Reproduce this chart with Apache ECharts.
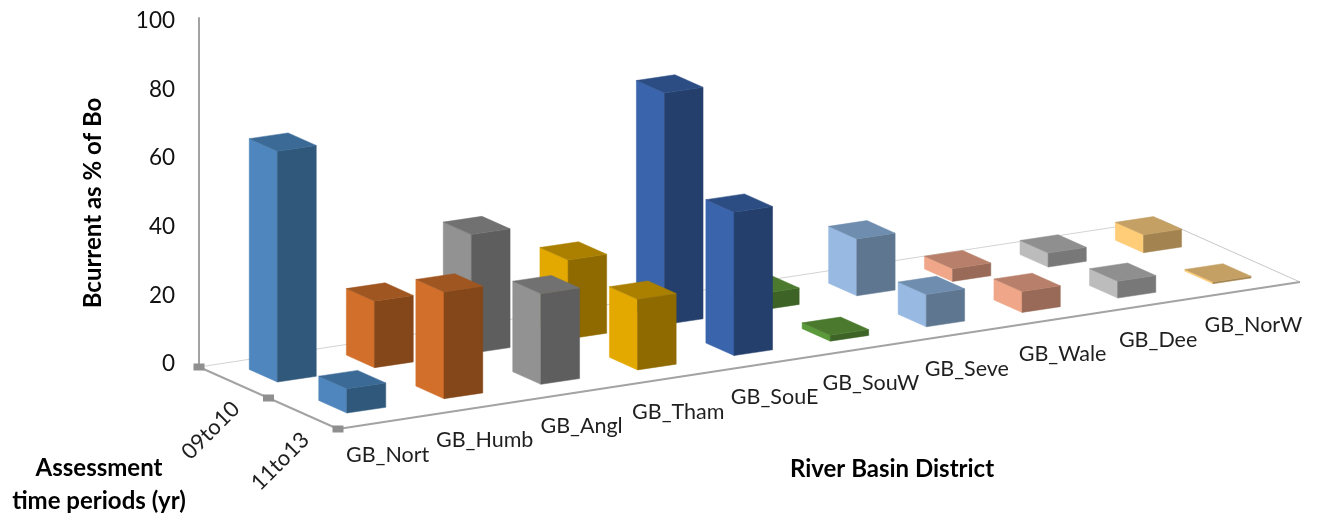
<!DOCTYPE html>
<html>
<head>
<meta charset="utf-8">
<style>
  html, body { margin: 0; padding: 0; background: #fff; }
  #chart { width: 1319px; height: 515px; }
</style>
<script src="https://cdn.jsdelivr.net/npm/echarts@6/dist/echarts.min.js"></script>
</head>
<body>
<div id="chart"></div>
<script>
// River basin districts along the floor, assessment periods going back to front.
const districts = ['GB_Nort', 'GB_Humb', 'GB_Angl', 'GB_Tham', 'GB_SouE', 'GB_SouW', 'GB_Seve', 'GB_Wale', 'GB_Dee', 'GB_NorW'];
const periods = ['09to10', '11to13'];
const valueTicks = [0, 20, 40, 60, 80, 100];

// Bcurrent as % of Bo
const values09to10 = [67.3, 19.4, 34.6, 23.0, 67.5, 4.8, 16.6, 3.7, 4.1, 5.2];
const values11to13 = [7.1, 31.1, 26.4, 20.6, 41.8, 1.7, 9.4, 6.1, 4.9, 0.5];

// Face colours per district
const frontColors = ['#4f86bd', '#d26f2b', '#929292', '#e3a900', '#3a65ad', '#5b9a3a', '#97b9e2', '#f0a689', '#bcbcbc', '#ffcd78'];
const sideColors = ['#30587b', '#844719', '#5e5e5e', '#8f6a00', '#243f6c', '#3d6426', '#5f7690', '#996a57', '#787878', '#a38450'];
const topColors = ['#3b6a97', '#9f5620', '#717171', '#ab8000', '#2c4d84', '#4b7a2e', '#6f8dae', '#b8806a', '#8f8f8f', '#c4a064'];

// Oblique projection of the floor: each district rises along the screen,
// each period steps down and to the right.
const RISE_PER_DISTRICT = 14.7;
const DEPTH_DX = 69.5;
const DEPTH_DY = 31;
const FLOOR_DROP = 3;
// Slight bow across the floor, zero at both ends
const BOW_DX = 1.1;
// Columns and district labels climb a little less steeply than the floor edges
const CELL_RISE_EASE = 0.33;

// Column footprint inside one floor cell
const COL_U0 = 0.345, COL_U1 = 0.745;
const COL_V0 = 0.24, COL_V1 = 0.645;

const FONT = 'Lato, "Open Sans", sans-serif';
const AXIS_GREY = '#a3a3a3';

function project(api, u, v, h) {
  const p = api.coord([u, h]);
  const bow = u * (1 - u / districts.length);
  return [
    p[0] + v * DEPTH_DX + bow * BOW_DX,
    p[1] - u * RISE_PER_DISTRICT + v * DEPTH_DY + FLOOR_DROP
  ];
}

function projectCell(api, u, v, h) {
  const p = project(api, u, v, h);
  return [p[0], p[1] + u * CELL_RISE_EASE];
}

function face(points, fill) {
  return { type: 'polygon', silent: true, shape: { points }, style: { fill, stroke: fill, lineWidth: 0.5 } };
}

function columnRenderer(row) {
  return function (params, api) {
    const i = api.value(0);
    const h = api.value(1);
    const u0 = i + COL_U0, u1 = i + COL_U1;
    const v0 = row + COL_V0, v1 = row + COL_V1;
    return {
      type: 'group',
      children: [
        face([projectCell(api, u0, v0, h), projectCell(api, u0, v1, h), projectCell(api, u0, v1, 0), projectCell(api, u0, v0, 0)], frontColors[i]),
        face([projectCell(api, u0, v1, h), projectCell(api, u1, v1, h), projectCell(api, u1, v1, 0), projectCell(api, u0, v1, 0)], sideColors[i]),
        face([projectCell(api, u0, v0, h), projectCell(api, u1, v0, h), projectCell(api, u1, v1, h), projectCell(api, u0, v1, h)], topColors[i])
      ]
    };
  };
}

function edge(a, b, stroke, lineWidth) {
  return { type: 'line', silent: true, shape: { x1: a[0], y1: a[1], x2: b[0], y2: b[1] }, style: { stroke, lineWidth } };
}

function renderFloor(params, api) {
  const nU = districts.length, nV = periods.length;
  const children = [
    edge(project(api, 0, 0, 0), project(api, nU, 0, 0), '#d4d4d4', 1),
    edge(project(api, nU, 0, 0), project(api, nU, nV, 0), '#c8c8c8', 1),
    edge(project(api, 0, 0, 0), project(api, 0, nV, 0), AXIS_GREY, 2),
    edge(project(api, 0, nV, 0), project(api, nU, nV, 0), AXIS_GREY, 2),
    edge(project(api, 0, 0, 102), project(api, 0, 0, 0), AXIS_GREY, 2)
  ];
  for (let v = 0; v <= nV; v++) {
    const c = project(api, 0, v, 0);
    children.push({
      type: 'rect', silent: true,
      shape: { x: c[0] - 5.5, y: c[1] - 3.5, width: 11, height: 7 },
      style: { fill: '#8f8f8f' }
    });
  }
  periods.forEach(function (name, v) {
    const c = project(api, 0, v + 0.5, 0);
    children.push({
      type: 'text', silent: true,
      x: c[0] - 23, y: c[1] + 48, rotation: Math.PI / 4,
      style: { text: name, x: 0, y: 0, align: 'center', verticalAlign: 'middle', fill: '#1f1f1f', font: '22px ' + FONT }
    });
  });
  return { type: 'group', children };
}

function renderDistrictLabel(params, api) {
  const c = projectCell(api, api.value(0) + 0.5, periods.length, 0);
  return {
    type: 'text', silent: true,
    x: c[0] + 1, y: c[1] + 33,
    style: { text: districts[api.value(0)], x: 0, y: 0, align: 'center', verticalAlign: 'middle', fill: '#1f1f1f', font: '21.5px ' + FONT }
  };
}

function titleText(text, x, y, rotation) {
  return {
    type: 'text', x, y, rotation: rotation || 0, silent: true,
    style: { text, x: 0, y: 0, align: 'center', verticalAlign: 'middle', fill: '#000', font: 'bold 24px ' + FONT, lineHeight: 33 }
  };
}

const chart = echarts.init(document.getElementById('chart'), null, { renderer: 'canvas' });
chart.setOption({
  animation: false,
  backgroundColor: '#fff',
  grid: { left: 199, top: 21, width: 962, height: 343 },
  xAxis: { type: 'value', min: 0, max: districts.length, show: false },
  yAxis: {
    type: 'value', min: valueTicks[0], max: valueTicks[valueTicks.length - 1], interval: 20,
    axisLine: { show: false }, axisTick: { show: false }, splitLine: { show: false },
    axisLabel: { margin: 24, fontSize: 22.5, fontFamily: FONT, color: '#111' }
  },
  graphic: [
    titleText('Bcurrent as % of Bo', 93, 203, Math.PI / 2),
    titleText('River Basin District', 892, 469),
    titleText('Assessment\ntime periods (yr)', 99, 485)
  ],
  series: [
    { type: 'custom', data: [[0, 0]], renderItem: renderFloor, silent: true, z: 1 },
    {
      type: 'custom', name: periods[0], silent: true, z: 2,
      data: values09to10.map(function (v, i) { return [i, v]; }),
      encode: { x: 0, y: 1 }, renderItem: columnRenderer(0)
    },
    {
      type: 'custom', name: periods[1], silent: true, z: 3,
      data: values11to13.map(function (v, i) { return [i, v]; }),
      encode: { x: 0, y: 1 }, renderItem: columnRenderer(1)
    },
    {
      type: 'custom', silent: true, z: 4,
      data: districts.map(function (d, i) { return [i, 0]; }),
      renderItem: renderDistrictLabel
    }
  ]
});
</script>
</body>
</html>
